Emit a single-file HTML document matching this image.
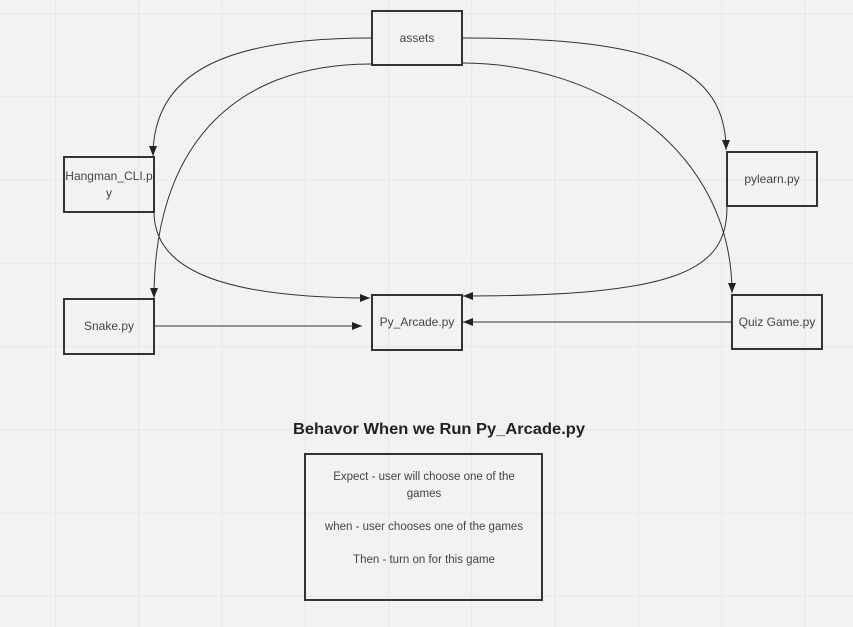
<!DOCTYPE html>
<html><head><style>
html,body{margin:0;padding:0;background:#f2f2f2;}
svg{display:block;}
text{font-family:"Liberation Sans",sans-serif;}
</style></head><body>
<svg width="853" height="627" viewBox="0 0 853 627" xmlns="http://www.w3.org/2000/svg">
<defs>
<pattern id="g" x="55" y="13" width="83.3" height="83.3" patternUnits="userSpaceOnUse">
<path d="M0 0H83.3M0 0V83.3" stroke="#e3e3e3" stroke-width="1.5" fill="none"/>
</pattern>
<marker id="a" markerWidth="10" markerHeight="8" refX="10" refY="4" orient="auto" markerUnits="userSpaceOnUse">
<path d="M0 0L10 4L0 8Z" fill="#222"/>
</marker>
</defs>
<rect width="853" height="627" fill="#f2f2f2"/>
<rect width="853" height="627" fill="url(#g)"/>
<g fill="none" stroke="#333" stroke-width="1" marker-end="url(#a)">
<path d="M371 38 C230 38 153 70 153 156"/>
<path d="M371 64 C230 64 154 150 154 298"/>
<path d="M154 212 C154 260 200 298 370 298"/>
<path d="M155 326 L362 326"/>
<path d="M462 38 C640 38 726 60 726 150"/>
<path d="M462 63 C600 63 732 150 732 293"/>
<path d="M727 207 C727 270 680 296 463 296"/>
<path d="M731 322 L463 322"/>
</g>
<g fill="none" stroke="#333" stroke-width="2">
<rect x="372" y="11" width="90" height="54"/>
<rect x="64" y="157" width="90" height="55"/>
<rect x="64" y="299" width="90" height="55"/>
<rect x="372" y="295" width="90" height="55"/>
<rect x="727" y="152" width="90" height="54"/>
<rect x="732" y="295" width="90" height="54"/>
<rect x="305" y="454" width="237" height="146"/>
</g>
<g font-size="12" fill="#444" text-anchor="middle">
<text x="417" y="42">assets</text>
<text x="109" y="180">Hangman_CLI.p</text>
<text x="109" y="197">y</text>
<text x="109" y="330">Snake.py</text>
<text x="417" y="326">Py_Arcade.py</text>
<text x="772" y="183">pylearn.py</text>
<text x="777" y="326">Quiz Game.py</text>
<text x="424" y="480" font-size="11.5">Expect - user will choose one of the</text>
<text x="424" y="497" font-size="11.5">games</text>
<text x="424" y="530" font-size="11.5">when - user chooses one of the games</text>
<text x="424" y="563" font-size="11.5">Then - turn on for this game</text>
</g>
<text x="293" y="434" font-size="16" font-weight="bold" fill="#222" textLength="292" lengthAdjust="spacingAndGlyphs">Behavor When we Run Py_Arcade.py</text>
</svg>
</body></html>
